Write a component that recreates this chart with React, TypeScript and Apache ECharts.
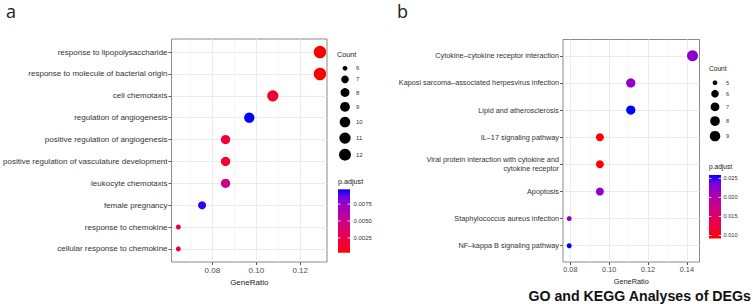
import React, { useEffect, useRef } from 'react';
import * as echarts from 'echarts';

// ---------- Panel a: GO ----------
const goTerms = [
  'response to lipopolysaccharide',
  'response to molecule of bacterial origin',
  'cell chemotaxis',
  'regulation of angiogenesis',
  'positive regulation of angiogenesis',
  'positive regulation of vasculature development',
  'leukocyte chemotaxis',
  'female pregnancy',
  'response to chemokine',
  'cellular response to chemokine',
];
const goRatio = [0.129, 0.129, 0.1075, 0.0968, 0.086, 0.086, 0.086, 0.0753, 0.0645, 0.0645];
const goCount = [12, 12, 10, 9, 8, 8, 8, 7, 6, 6];
const goPadj = [0.0003, 0.00035, 0.0014, 0.0097, 0.0015, 0.0015, 0.005, 0.0092, 0.0027, 0.0027];
const goXRange = [0.0614, 0.1322];
const goXTicks = [0.08, 0.1, 0.12];
const goXMinor = [0.07, 0.09, 0.11, 0.13];
const goCountLegend = [6, 7, 8, 9, 10, 11, 12];
const goPadjRange = [0.0003, 0.0097];
const goPadjTicks = [0.0025, 0.005, 0.0075];
const goPadjLabels = ['0.0025', '0.0050', '0.0075'];

// ---------- Panel b: KEGG ----------
const keggTerms = [
  'Cytokine–cytokine receptor interaction',
  'Kaposi sarcoma–associated herpesvirus infection',
  'Lipid and atherosclerosis',
  'IL–17 signaling pathway',
  'Viral protein interaction with cytokine and\ncytokine receptor',
  'Apoptosis',
  'Staphylococcus aureus infection',
  'NF–kappa B signaling pathway',
];
const keggRatio = [0.1429, 0.1111, 0.1111, 0.0952, 0.0952, 0.0952, 0.0794, 0.0794];
const keggCount = [9, 7, 7, 6, 6, 6, 5, 5];
const keggPadj = [0.0222, 0.0222, 0.0259, 0.0092, 0.0093, 0.0222, 0.0222, 0.0259];
const keggXRange = [0.0762, 0.1465];
const keggXTicks = [0.08, 0.1, 0.12, 0.14];
const keggXMinor = [0.09, 0.11, 0.13];
const keggCountLegend = [5, 6, 7, 8, 9];
const keggPadjRange = [0.0092, 0.0259];
const keggPadjTicks = [0.01, 0.015, 0.02, 0.025];
const keggPadjLabels = ['0.010', '0.015', '0.020', '0.025'];

const title = 'GO and KEGG Analyses of DEGs';

// red -> blue gradient (Lab-like interpolation)
const colorStops = ['#FF0000', '#F40030', '#E8004E', '#DA006B', '#CA0089', '#B500A5', '#9A00C3', '#7300E1', '#0000FF'];

const FONT = '"Liberation Sans", Arial, Helvetica, sans-serif';

type PanelCfg = {
  terms: string[];
  ratio: number[];
  count: number[];
  padj: number[];
  xRange: number[];
  xTicks: number[];
  xMinor: number[];
  countLegend: number[];
  padjRange: number[];
  padjTicks: number[];
  padjLabels: string[];
  grid: { left: number; top: number; width: number; height: number };
  fontSize: number;
  minD: number;
  maxD: number;
  legend: { x: number; countTitleY: number; dotX: number; labelX: number; firstDotY: number; padjTitleY: number; barX: number; barY: number; barW: number; barH: number; barLabelX: number; fs: number; titleFs: number };
};

const panels: PanelCfg[] = [
  {
    terms: goTerms, ratio: goRatio, count: goCount, padj: goPadj, xRange: goXRange, xTicks: goXTicks, xMinor: goXMinor,
    countLegend: goCountLegend, padjRange: goPadjRange, padjTicks: goPadjTicks, padjLabels: goPadjLabels,
    grid: { left: 166, top: 39, width: 161, height: 223 },
    fontSize: 8, minD: 5, maxD: 12.5,
    legend: { x: 337, countTitleY: 54, dotX: 345, labelX: 356, firstDotY: 68.3, padjTitleY: 181.5, barX: 338, barY: 189.3, barW: 12, barH: 63.4, barLabelX: 353.5, fs: 6, titleFs: 7.2 },
  },
  {
    terms: keggTerms, ratio: keggRatio, count: keggCount, padj: keggPadj, xRange: keggXRange, xTicks: keggXTicks, xMinor: keggXMinor,
    countLegend: keggCountLegend, padjRange: keggPadjRange, padjTicks: keggPadjTicks, padjLabels: keggPadjLabels,
    grid: { left: 563, top: 39.5, width: 136.5, height: 222.5 },
    fontSize: 7.3, minD: 5, maxD: 11,
    legend: { x: 709, countTitleY: 68.3, dotX: 715, labelX: 726, firstDotY: 82.7, padjTitleY: 166.7, barX: 709, barY: 175, barW: 12, barH: 63.5, barLabelX: 723.5, fs: 5.6, titleFs: 6.6 },
  },
];

function sizeFn(p: PanelCfg) {
  const lo = p.countLegend[0];
  const hi = p.countLegend[p.countLegend.length - 1];
  return (c: number) => p.minD + (p.maxD - p.minD) * Math.sqrt((c - lo) / (hi - lo));
}

function buildOption() {
  const grid: any[] = [];
  const xAxis: any[] = [];
  const yAxis: any[] = [];
  const series: any[] = [];
  const visualMap: any[] = [];
  const graphic: any[] = [];

  panels.forEach((p, k) => {
    const sz = sizeFn(p);
    grid.push({
      left: p.grid.left, top: p.grid.top, width: p.grid.width, height: p.grid.height,
      show: true, borderColor: '#8a8a8a', borderWidth: 1, backgroundColor: '#fff', containLabel: false,
    });
    // major x axis
    xAxis.push({
      type: 'value', gridIndex: k, min: p.xRange[0], max: p.xRange[1], position: 'bottom',
      name: 'GeneRatio', nameLocation: 'middle', nameGap: 14,
      nameTextStyle: { fontFamily: FONT, fontSize: p.fontSize, color: '#1a1a1a' },
      axisLine: { show: false, onZero: false },
      axisTick: { show: true, length: 3, lineStyle: { color: '#555' }, customValues: p.xTicks },
      axisLabel: { customValues: p.xTicks, fontFamily: FONT, fontSize: p.fontSize, color: '#4d4d4d', margin: 4, formatter: (v: number) => v.toFixed(2) },
      splitLine: { show: true, lineStyle: { color: '#EBEBEB', width: 1 } },
    });
    // minor x grid
    xAxis.push({
      type: 'value', gridIndex: k, min: p.xRange[0], max: p.xRange[1], position: 'top',
      axisLine: { show: false, onZero: false }, axisLabel: { show: false },
      axisTick: { show: false, customValues: p.xMinor },
      splitLine: { show: true, lineStyle: { color: '#F0F0F0', width: 0.6 } },
    });
    const idx = p.terms.map((_, i) => i);
    yAxis.push({
      type: 'value', gridIndex: k, inverse: true, min: -0.6, max: p.terms.length - 0.4, position: 'left',
      axisLine: { show: false, onZero: false },
      axisTick: { show: true, length: 3, lineStyle: { color: '#555' }, customValues: idx },
      axisLabel: {
        customValues: idx, fontFamily: FONT, fontSize: p.fontSize, color: '#333', margin: 4, lineHeight: 9,
        formatter: (v: number) => p.terms[Math.round(v)] ?? '',
      },
      splitLine: { show: true, lineStyle: { color: '#EBEBEB', width: 1 } },
    });
    series.push({
      type: 'scatter', xAxisIndex: k * 2, yAxisIndex: k, z: 5,
      data: p.terms.map((t, i) => [p.ratio[i], i, p.count[i], p.padj[i]]),
      symbolSize: (v: number[]) => sz(v[2]),
      itemStyle: { opacity: 1 },
    });
    visualMap.push({
      type: 'continuous', show: false, seriesIndex: k, dimension: 3,
      min: p.padjRange[0], max: p.padjRange[1], inRange: { color: colorStops },
    });

    // Legend: Count
    const L = p.legend;
    graphic.push({ type: 'text', x: L.x, y: L.countTitleY, style: { text: 'Count', fontFamily: FONT, fontSize: L.titleFs, fill: '#1a1a1a', verticalAlign: 'middle' } });
    let y = L.firstDotY;
    p.countLegend.forEach((c, i) => {
      if (i > 0) {
        const d0 = sz(p.countLegend[i - 1]);
        const d1 = sz(c);
        y += (d0 + d1) / 2 + 4.5;
      }
      const d = sz(c) * 0.95;
      graphic.push({ type: 'circle', shape: { cx: L.dotX, cy: y, r: d / 2 }, style: { fill: '#000' } });
      graphic.push({ type: 'text', x: L.labelX, y, style: { text: String(c), fontFamily: FONT, fontSize: L.fs, fill: '#333', verticalAlign: 'middle' } });
    });
    // Legend: p.adjust colorbar
    graphic.push({ type: 'text', x: L.barX, y: L.padjTitleY, style: { text: 'p.adjust', fontFamily: FONT, fontSize: L.titleFs, fill: '#1a1a1a', verticalAlign: 'middle' } });
    graphic.push({
      type: 'rect', shape: { x: L.barX, y: L.barY, width: L.barW, height: L.barH },
      style: {
        fill: new echarts.graphic.LinearGradient(0, 1, 0, 0, colorStops.map((c, i) => ({ offset: i / (colorStops.length - 1), color: c }))),
      },
    });
    p.padjTicks.forEach((v, i) => {
      const ty = L.barY + L.barH - ((v - p.padjRange[0]) / (p.padjRange[1] - p.padjRange[0])) * L.barH;
      graphic.push({ type: 'line', shape: { x1: L.barX, y1: ty, x2: L.barX + 2.4, y2: ty }, style: { stroke: '#fff', lineWidth: 0.8 } });
      graphic.push({ type: 'line', shape: { x1: L.barX + L.barW - 2.4, y1: ty, x2: L.barX + L.barW, y2: ty }, style: { stroke: '#fff', lineWidth: 0.8 } });
      graphic.push({ type: 'text', x: L.barLabelX, y: ty, style: { text: p.padjLabels[i], fontFamily: FONT, fontSize: L.fs, fill: '#333', verticalAlign: 'middle' } });
    });
  });

  graphic.push({ type: 'text', x: 6, y: 11, style: { text: 'a', fontFamily: '"Open Sans", sans-serif', fontSize: 18, fill: '#222', verticalAlign: 'middle' } });
  graphic.push({ type: 'text', x: 397, y: 11, style: { text: 'b', fontFamily: '"Open Sans", sans-serif', fontSize: 18, fill: '#222', verticalAlign: 'middle' } });
  graphic.push({ type: 'text', x: 751, y: 296, style: { text: title, fontFamily: FONT, fontWeight: 'bold', fontSize: 14.2, fill: '#111', align: 'right', verticalAlign: 'middle' } });

  return { animation: false, backgroundColor: '#fff', grid, xAxis, yAxis, series, visualMap, graphic };
}

export default function App() {
  const ref = useRef<HTMLDivElement>(null);
  useEffect(() => {
    if (!ref.current) return;
    const chart = echarts.init(ref.current, undefined, { renderer: 'svg' });
    chart.setOption(buildOption() as any);
    return () => chart.dispose();
  }, []);
  return <div ref={ref} style={{ position: 'fixed', left: 0, top: 0, width: 753, height: 304, background: '#fff' }} />;
}
